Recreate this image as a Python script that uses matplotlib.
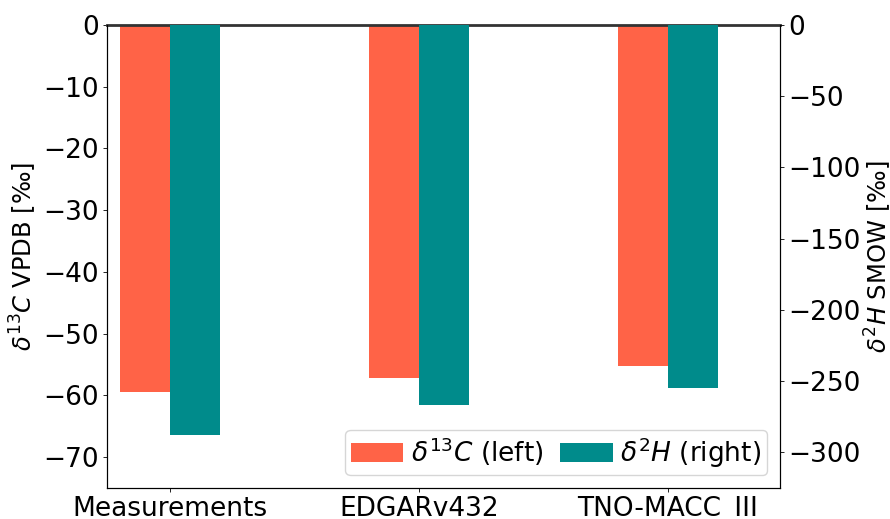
import numpy as np
import matplotlib
matplotlib.use("Agg")
import matplotlib.pyplot as plt

# source inventories / measurements
sources = ["Measurements", "EDGARv432", "TNO-MACC_III"]
d13c = [-59.4, -57.2, -55.2]     # permil VPDB (left axis)
d2h = [-287.7, -266.9, -254.7]   # permil SMOW (right axis)

c13_color = "#FF6347"
h2_color = "#008B8B"

plt.rcParams["font.size"] = 19

fig = plt.figure(figsize=(8.9, 5.19), dpi=100)
ax = fig.add_axes([0.1202, 0.0597, 0.7562, 0.8921])
ax2 = ax.twinx()

x = np.arange(len(sources))
w = 0.2
b1 = ax.bar(x - w / 2, d13c, width=w, color=c13_color, label=r"$\delta^{13}C$ (left)")
b2 = ax2.bar(x + w / 2, d2h, width=w, color=h2_color, label=r"$\delta^{2}H$ (right)")

ax.set_xlim(-0.253, 2.45)
ax.set_ylim(-75, 0)
ax2.set_ylim(-325, 0)
ax.set_yticks(np.arange(-70, 1, 10))
ax2.set_yticks(np.arange(-300, 1, 50))

ax.set_xticks(x)
ax.set_xticklabels(sources)
ax.set_ylabel(r"$\delta^{13}C$ VPDB [‰]", fontsize=17.5, labelpad=3)
ax2.set_ylabel(r"$\delta^{2}H$ SMOW [‰]", fontsize=17.5, labelpad=2)

for a in (ax, ax2):
    a.tick_params(length=3, width=0.6, pad=3)
ax.spines["top"].set_color("#333333")
ax.spines["top"].set_linewidth(2)
ax2.spines["top"].set_visible(False)

ax2.legend([b1, b2], [b1.get_label(), b2.get_label()], loc="lower right",
           ncol=2, fontsize=19, handlelength=2.0, columnspacing=0.6,
           handletextpad=0.3, borderpad=0.2, borderaxespad=0.5)

fig.savefig("out.png", dpi=100)
